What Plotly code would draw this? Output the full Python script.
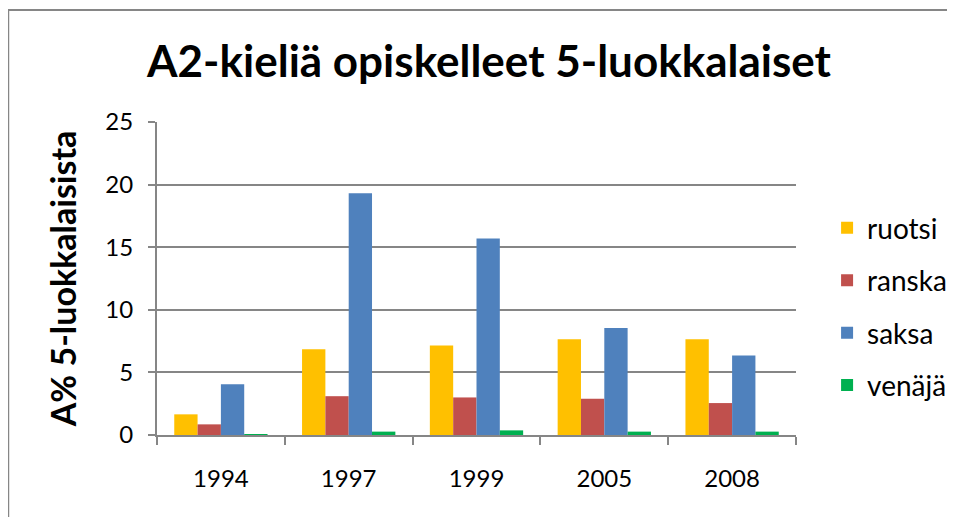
import plotly.graph_objects as go

years = ["1994", "1997", "1999", "2005", "2008"]
series_names = ["ruotsi", "ranska", "saksa", "venäjä"]
ruotsi = [1.65, 6.85, 7.15, 7.65, 7.65]
ranska = [0.85, 3.1, 3.0, 2.9, 2.55]
saksa = [4.05, 19.3, 15.7, 8.55, 6.35]
venaja = [0.07, 0.27, 0.37, 0.27, 0.27]
colors = ["#FFC000", "#C0504D", "#4F81BD", "#00B050"]
y_ticks = [0, 5, 10, 15, 20, 25]

FONT = "Lato, 'Open Sans', sans-serif"

# page body has an 8px default margin; compensate so the plot lands where intended
OFF = 8
L, T = 157 - OFF, 122 - OFF
PW, PH = 640, 313

fig = go.Figure()
for name, vals, col in zip(series_names, [ruotsi, ranska, saksa, venaja], colors):
    fig.add_trace(go.Bar(
        x=years, y=vals, name=name, legendgroup=name,
        marker=dict(color=col, line=dict(width=0)),
    ))

fig.update_layout(
    width=955, height=517,
    margin=dict(l=L, r=955 - L - PW, t=T, b=517 - T - PH),
    paper_bgcolor="white", plot_bgcolor="white",
    barmode="group", bargap=0.27, bargroupgap=0,
    font=dict(family=FONT, color="black"),
    title=dict(
        text="<b>A2-kieliä opiskelleet 5-luokkalaiset</b>",
        font=dict(family=FONT, size=44, color="black"),
        x=(489 - OFF) / 955, xanchor="center",
        y=1 - (62 - OFF) / 517, yanchor="middle",
    ),
    legend=dict(
        x=1.047, xanchor="left", y=0.41, yanchor="middle",
        font=dict(family=FONT, size=28, color="black"),
        tracegroupgap=13, bgcolor="rgba(0,0,0,0)",
        itemwidth=30,
    ),
    showlegend=True,
)

fig.update_xaxes(
    type="category",
    showline=True, linecolor="#868686", linewidth=2,
    ticks="outside", tickson="boundaries", ticklen=8, tickwidth=2, tickcolor="#868686",
    tickfont=dict(family=FONT, size=24, color="black"),
    ticklabelstandoff=21,
    showgrid=False,
)
fig.update_yaxes(
    range=[0, 25], tickvals=y_ticks,
    showline=True, linecolor="#868686", linewidth=2,
    ticks="outside", ticklen=7, tickwidth=2, tickcolor="#868686",
    tickfont=dict(family=FONT, size=24, color="black"),
    ticklabelstandoff=10,
    showgrid=True, gridcolor="#868686", gridwidth=2,
    zeroline=False,
    title=dict(text="<b>A% 5-luokkalaisista</b>",
               font=dict(family=FONT, size=34, color="black"), standoff=18),
)

# outer chart-area border (extends past the bottom/right of the view)
fig.add_shape(type="rect", xref="paper", yref="paper",
              x0=(8 - 157) / PW, x1=1.6, y0=-0.6, y1=(435 - 10) / PH,
              line=dict(color="#868686", width=2), fillcolor="rgba(0,0,0,0)",
              layer="below")

fig.write_html("out.html")
